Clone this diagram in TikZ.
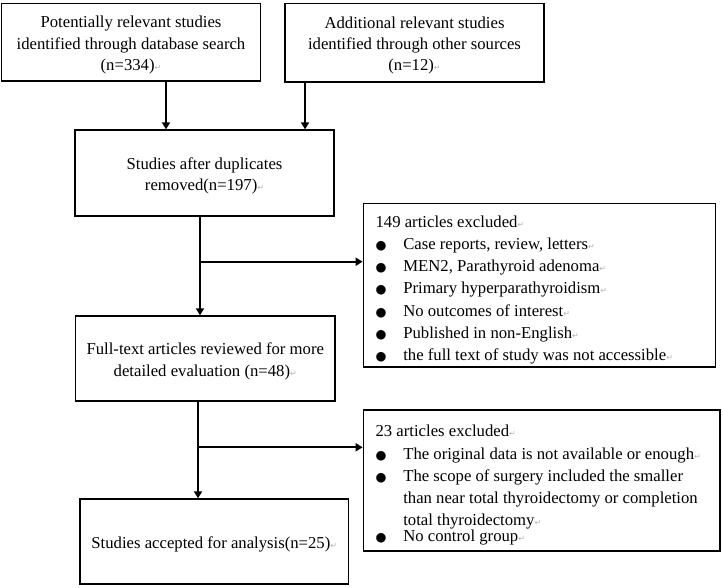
\documentclass[tikz,border=0pt]{standalone}
\usepackage{fontspec}
\setmainfont{Liberation Serif}
\newfontfamily\arrfont{DejaVu Sans}
\usetikzlibrary{arrows.meta}
\newcommand\retm{{\arrfont\fontsize{8}{8}\selectfont\color{gray!60}↵}}
\newcommand\bul{\makebox[27.7pt][l]{\arrfont\fontsize{12.5}{12.5}\selectfont ●}}
\newcommand\up[1]{\rule{0pt}{#1}}
\begin{document}
\begin{tikzpicture}[x=1pt,y=-1pt,
  box/.style={draw, line width=1.3pt, align=center, inner sep=0pt, font=\fontsize{16.7}{21.3}\selectfont},
  listbox/.style={draw, line width=1.3pt, align=flush left, inner xsep=12.3pt, inner ysep=0pt, font=\fontsize{16.7}{22.1}\selectfont},
  arr/.style={line width=1.8pt, -{Triangle[length=7pt,width=8pt]}}]
\useasboundingbox (0,0) rectangle (723,588);

\node[box, minimum width=259pt, minimum height=77.5pt] (b1) at (131,42.2)
  {\up{17.4pt}Potentially relevant studies\\identified through database search\\(n=334)\retm};
\node[box, minimum width=259pt, minimum height=78.5pt] (b2) at (414.5,42.75)
  {\up{17.4pt}Additional relevant studies\\identified through other sources\\(n=12)\retm};
\node[box, minimum width=259pt, minimum height=86pt] (b3) at (204.5,173)
  {\up{17.4pt}Studies after duplicates\\removed(n=197)\retm};
\node[listbox, text width=327.6pt, minimum height=163.5pt] (b4) at (539.4,285.1)
  {\up{21.4pt}149 articles excluded\retm\\
   \bul Case reports, review, letters\retm\\
   \bul MEN2, Parathyroid adenoma\retm\\
   \bul Primary hyperparathyroidism\retm\\
   \bul No outcomes of interest\retm\\
   \bul Published in non-English\retm\\
   \bul the full text of study was not accessible\retm};
\node[box, minimum width=259.5pt, minimum height=85pt] (b5) at (205.25,358.5)
  {\up{17.4pt}Full-text articles reviewed for more\\detailed evaluation (n=48)\retm};
\node[listbox, text width=332.1pt, minimum height=141pt, font=\fontsize{16.7}{22.2}\selectfont] (b7) at (541.65,480.5)
  {\up{21.4pt}23 articles excluded\retm\\
   \bul The original data is not available or enough\retm\\
   \bul\parbox[t]{304pt}{\raggedright The scope of surgery included the smaller\\than near total thyroidectomy or completion\\total thyroidectomy\retm}\\
   \bul No control group\retm};
\node[box, minimum width=268.5pt, minimum height=85pt] (b6) at (214.25,541.5)
  {\up{17.6pt}Studies accepted for analysis(n=25)\retm};

\draw[arr] ([xshift=35pt]b1.south) -- ([xshift=35pt]b1.south |- b3.north);
\draw[arr] ([xshift=20.7pt]b2.south west) -- ([xshift=20.7pt]b2.south west |- b3.north);
\draw[arr] ([xshift=-4.5pt]b3.south) -- ([xshift=-4.5pt]b3.south |- b5.north);
\coordinate (j1) at (200,261.7);
\draw[arr] (j1) -- (j1 -| b4.west);
\draw[arr] ([xshift=-7.25pt]b5.south) -- ([xshift=-7.25pt]b5.south |- b6.north);
\coordinate (j2) at (198,447.3);
\draw[arr] (j2) -- (j2 -| b7.west);
\end{tikzpicture}
\end{document}
